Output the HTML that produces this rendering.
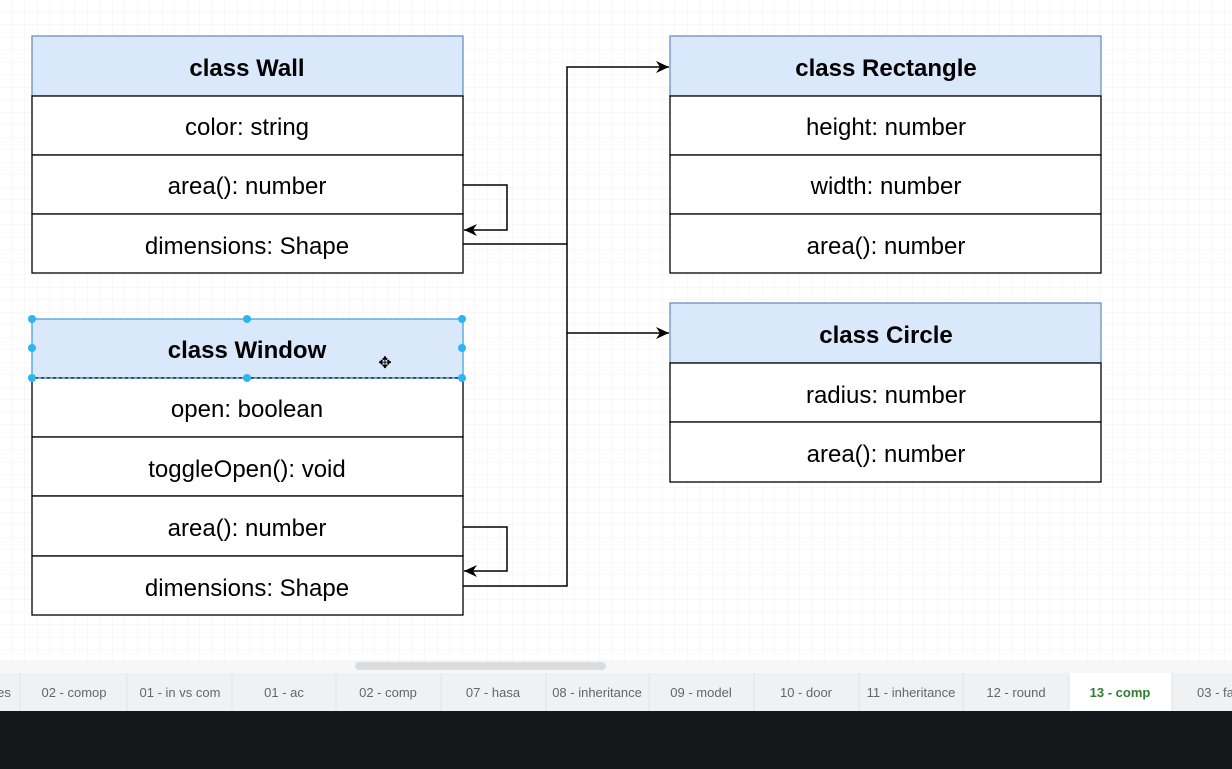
<!DOCTYPE html>
<html><head><style>
body{margin:0;width:1232px;height:769px;overflow:hidden;background:#fff;font-family:"Liberation Sans",Arial,sans-serif}
</style></head><body>
<svg width="1232" height="769" style="position:absolute;left:0;top:0" font-family="Liberation Sans, Arial, sans-serif">
<defs>
<pattern id="g" width="12.5" height="12.5" patternUnits="userSpaceOnUse"><path d="M12.5 0V12.5H0" fill="none" stroke="#f0f0f0" stroke-width="1"/></pattern>
<marker id="a" markerWidth="14" markerHeight="12" refX="13" refY="6" orient="auto" markerUnits="userSpaceOnUse"><path d="M0,0 L13,6 L0,12 L4,6z" fill="#000"/></marker>
</defs>
<rect x="0" y="0" width="1232" height="660" fill="url(#g)"/>
<g stroke="#000" stroke-width="1.3" font-size="24" text-anchor="middle">
<rect x="32" y="36" width="431" height="60" fill="#dae8fc" stroke="#6c8ebf"/>
<rect x="32" y="96" width="431" height="59" fill="#fff"/>
<rect x="32" y="155" width="431" height="59" fill="#fff"/>
<rect x="32" y="214" width="431" height="59" fill="#fff"/>
<rect x="32" y="319" width="431" height="59" fill="#dae8fc" stroke="#6c8ebf"/>
<rect x="32" y="378" width="431" height="59" fill="#fff"/>
<rect x="32" y="437" width="431" height="59" fill="#fff"/>
<rect x="32" y="496" width="431" height="60" fill="#fff"/>
<rect x="32" y="556" width="431" height="59" fill="#fff"/>
<rect x="670" y="36" width="431" height="60" fill="#dae8fc" stroke="#6c8ebf"/>
<rect x="670" y="96" width="431" height="59" fill="#fff"/>
<rect x="670" y="155" width="431" height="59" fill="#fff"/>
<rect x="670" y="214" width="431" height="59" fill="#fff"/>
<rect x="670" y="303" width="431" height="60" fill="#dae8fc" stroke="#6c8ebf"/>
<rect x="670" y="363" width="431" height="59" fill="#fff"/>
<rect x="670" y="422" width="431" height="60" fill="#fff"/>
<g fill="none" stroke-width="1.5">
<path d="M463 185H507V230H464" marker-end="url(#a)"/>
<path d="M463 527H507V571H464" marker-end="url(#a)"/>
<path d="M463 244H567"/>
<path d="M463 586H567V67H669" marker-end="url(#a)"/>
<path d="M567 333H669" marker-end="url(#a)"/>
</g>
</g>
<rect x="32" y="319" width="431" height="59" fill="none" stroke="#29b6f2" stroke-dasharray="3,3" stroke-width="1"/>
<g fill="#29b6f2">
<circle cx="32" cy="319" r="4"/><circle cx="247" cy="319" r="4"/><circle cx="462" cy="319" r="4"/>
<circle cx="32" cy="348" r="4"/><circle cx="462" cy="348" r="4"/>
<circle cx="32" cy="378" r="4"/><circle cx="247" cy="378" r="4"/><circle cx="462" cy="378" r="4"/>
</g>
<text x="385" y="368" font-size="16" text-anchor="middle">✥</text>
<g font-size="24" text-anchor="middle" fill="#000">
<text x="247" y="76" font-weight="bold">class Wall</text>
<text x="247" y="135">color: string</text>
<text x="247" y="194">area(): number</text>
<text x="247" y="254">dimensions: Shape</text>
<text x="247" y="358" font-weight="bold">class Window</text>
<text x="247" y="417">open: boolean</text>
<text x="247" y="477">toggleOpen(): void</text>
<text x="247" y="536">area(): number</text>
<text x="247" y="596">dimensions: Shape</text>
<text x="886" y="76" font-weight="bold">class Rectangle</text>
<text x="886" y="135">height: number</text>
<text x="886" y="194">width: number</text>
<text x="886" y="254">area(): number</text>
<text x="886" y="343" font-weight="bold">class Circle</text>
<text x="886" y="403">radius: number</text>
<text x="886" y="462">area(): number</text>
</g>
<rect x="0" y="660" width="1232" height="13" fill="#f5f7f8"/>
<rect x="355" y="662" width="251" height="8" rx="4" fill="#dcdcdc"/>
<rect x="0" y="673" width="1232" height="38" fill="#eff1f2"/>
<rect x="1069" y="673" width="103" height="38" fill="#fff"/>
<g stroke="#e0e2e4"><path d="M20 673V711M127 673V711M232 673V711M336 673V711M441 673V711M546 673V711M649 673V711M754 673V711M859 673V711M963 673V711M1069 673V711M1172 673V711"/></g>
<g font-size="13" fill="#666" text-anchor="middle">
<text x="4" y="697">es</text>
<text x="74" y="697">02 - comop</text>
<text x="180" y="697">01 - in vs com</text>
<text x="284" y="697">01 - ac</text>
<text x="388" y="697">02 - comp</text>
<text x="493" y="697">07 - hasa</text>
<text x="597" y="697">08 - inheritance</text>
<text x="701" y="697">09 - model</text>
<text x="806" y="697">10 - door</text>
<text x="911" y="697">11 - inheritance</text>
<text x="1016" y="697">12 - round</text>
<text x="1120" y="697" fill="#2e7d32" font-weight="bold">13 - comp</text>
<text x="1197" y="697" text-anchor="start">03 - fa</text>
</g>
<rect x="0" y="711" width="1232" height="58" fill="#15181b"/>
</svg>
</body></html>
